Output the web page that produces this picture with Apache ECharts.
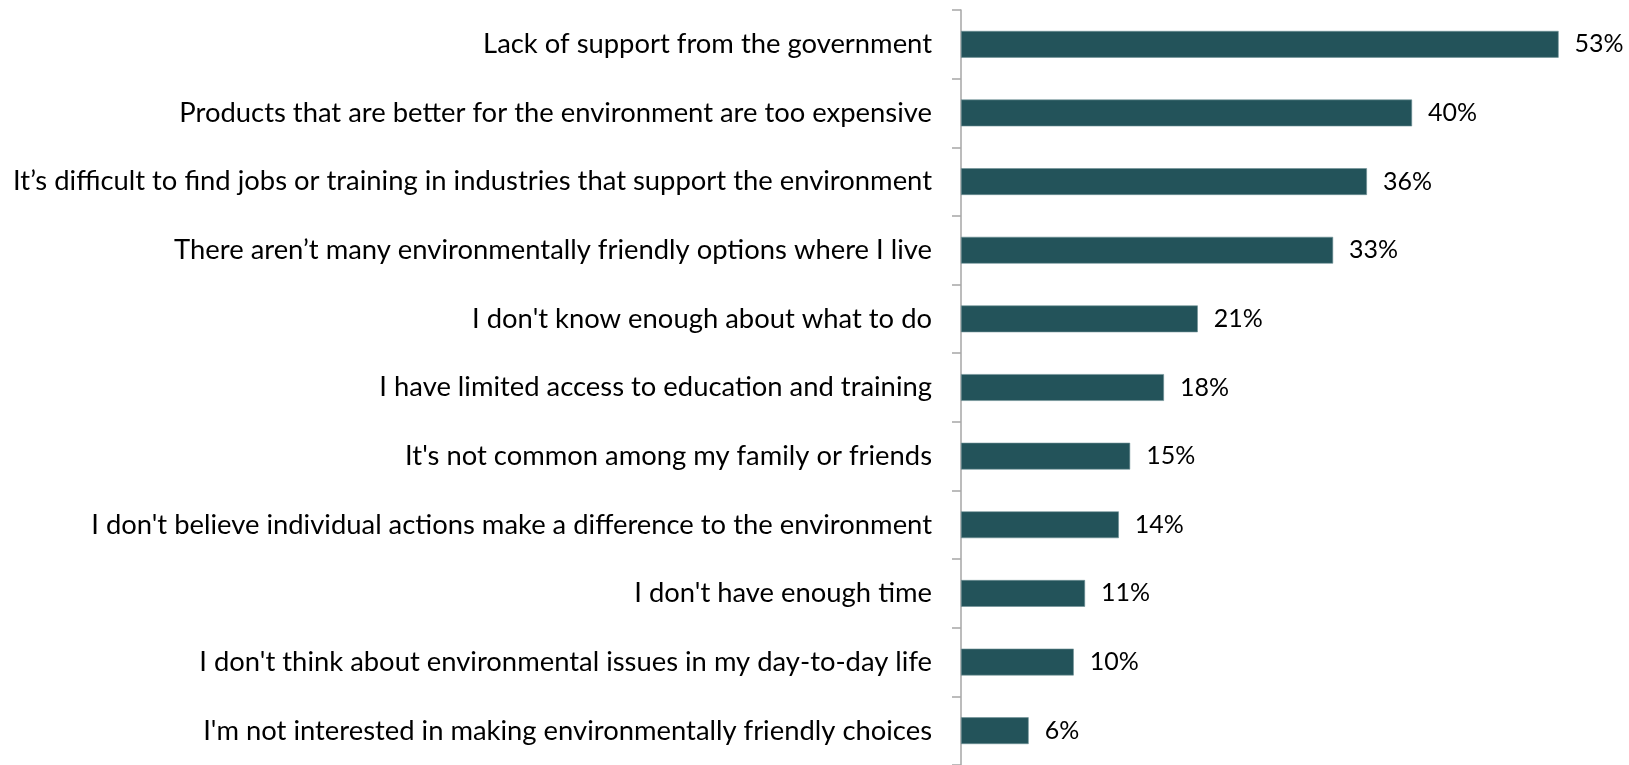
<!DOCTYPE html>
<html>
<head>
<meta charset="utf-8">
<script src="https://cdn.jsdelivr.net/npm/echarts@6/dist/echarts.min.js"></script>
<style>
  html, body { margin: 0; padding: 0; background: #fff; }
  #chart { width: 1629px; height: 765px; }
</style>
</head>
<body>
<div id="chart"></div>
<script>
// Barriers to making environmentally friendly choices (% of respondents)
const categories = [
  "Lack of support from the government",
  "Products that are better for the environment are too expensive",
  "It\u2019s difficult to find jobs or training in industries that support the environment",
  "There aren\u2019t many environmentally friendly options where I live",
  "I don't know enough about what to do",
  "I have limited access to education and training",
  "It's not common among my family or friends",
  "I don't believe individual actions make a difference to the environment",
  "I don't have enough time",
  "I don't think about environmental issues in my day-to-day life",
  "I'm not interested in making environmentally friendly choices"
];
const values = [53, 40, 36, 33, 21, 18, 15, 14, 11, 10, 6];

const FONT = "Lato";
const chart = echarts.init(document.getElementById('chart'));
chart.setOption({
  animation: false,
  backgroundColor: '#ffffff',
  grid: { left: 961, right: 14, top: 10, bottom: -3, containLabel: false },
  xAxis: {
    type: 'value',
    min: 0,
    max: 58,
    show: false
  },
  yAxis: {
    type: 'category',
    data: categories,
    inverse: true,
    axisLine: { show: true, lineStyle: { color: '#a6a6a6', width: 1.5 } },
    axisTick: { show: true, length: 9, lineStyle: { color: '#a6a6a6', width: 1.5 } },
    axisLabel: {
      margin: 29,
      color: '#000000',
      fontFamily: FONT,
      fontSize: 27.4
    },
    splitLine: { show: false }
  },
  series: [{
    type: 'bar',
    data: values,
    barWidth: '39%',
    itemStyle: { color: '#23535a', borderColor: '#6f9196', borderWidth: 0.6 },
    label: {
      show: true,
      position: 'right',
      distance: 16,
      formatter: p => p.value + '%',
      color: '#000000',
      fontFamily: FONT,
      fontSize: 25
    }
  }]
});
</script>
</body>
</html>
